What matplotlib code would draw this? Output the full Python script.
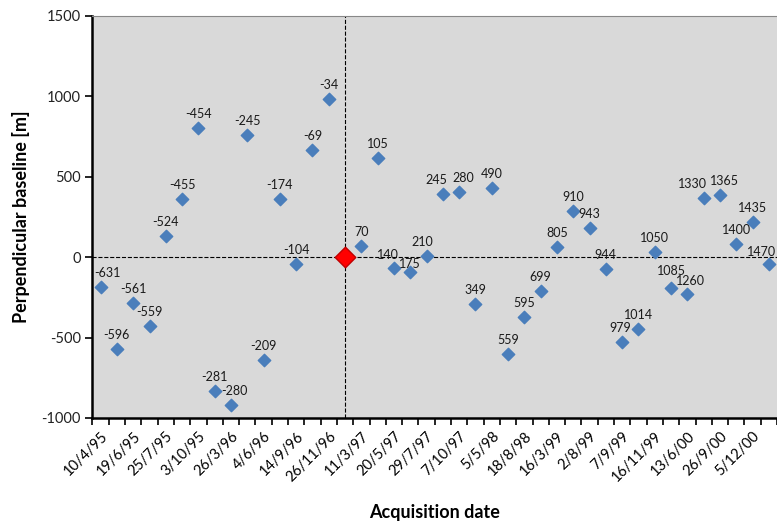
import numpy as np
import matplotlib.pyplot as plt

# temporal baseline labels [days] and perpendicular baseline [m], in acquisition order
days = [-631, -596, -561, -559, -524, -455, -454, -281, -280, -245, -209, -174,
        -104, -69, -34, 0, 70, 105, 140, 175, 210, 245, 280, 349, 490, 559, 595,
        699, 805, 910, 943, 944, 979, 1014, 1050, 1085, 1260, 1330, 1365, 1400,
        1435, 1470]
bperp = [-185, -570, -285, -426, 133, 363, 802, -832, -921, 762, -638, 363,
         -46, 669, 982, 0, 72, 615, -65, -92, 8, 395, 407, -291, 432, -603, -370,
         -208, 62, 286, 180, -77, -528, -449, 29, -194, -229, 370, 384, 80,
         218, -44]
date_labels = ['10/4/95', '19/6/95', '25/7/95', '3/10/95', '26/3/96', '4/6/96',
               '14/9/96', '26/11/96', '11/3/97', '20/5/97', '29/7/97', '7/10/97',
               '5/5/98', '18/8/98', '16/3/99', '2/8/99', '7/9/99', '16/11/99',
               '13/6/00', '26/9/00', '5/12/00']
master = days.index(0)

plt.rcParams['font.family'] = ['Lato', 'DejaVu Sans']
plt.rcParams['axes.unicode_minus'] = False

fig = plt.figure(figsize=(7.77, 5.29), dpi=100)
ax = fig.add_axes([0.119, 0.21, 0.881, 0.76])
ax.set_facecolor('#d9d9d9')

x = np.arange(len(days)) + 0.5
slaves = [i for i in range(len(days)) if i != master]
ax.scatter(x[slaves], np.array(bperp)[slaves], marker='D', s=40,
           color='#4a7ebb', zorder=3)
ax.scatter(x[master], bperp[master], marker='D', s=110, color='#ff0000',
           edgecolor='#c00000', linewidth=1, zorder=4)

ax.axhline(0, color='black', ls='--', lw=0.8, zorder=2)
ax.axvline(x[master], color='black', ls='--', lw=0.8, zorder=2)

# label nudges (pixels) where labels sit off the default spot
shift = {-631: (7, 0), -280: (3, 0), 140: (-6, -1.5), 175: (0, -6),
         210: (-4, 0), 245: (-7, 0), 280: (4, 0), 979: (-2, 0), 1085: (0, 3),
         1260: (3, -1.5), 1330: (-11, 0), 1365: (5, 0), 1470: (-7, -2)}
for xi, d, b in zip(x, days, bperp):
    if d == 0:
        continue
    dx, dy = shift.get(d, (0, 0))
    ax.annotate(str(d), (xi, b), xytext=(dx, 14 + dy), textcoords='offset pixels',
                ha='center', va='center', fontsize=9, color='#1a1a1a')

ax.set_xlim(0, len(days))
ax.set_ylim(-1000, 1500)
ax.set_yticks([-1000, -500, 0, 500, 1000, 1500])
ax.set_xticks(x[::2])
ax.set_xticklabels(date_labels, rotation=45, ha='right', rotation_mode='anchor',
                   fontsize=10.5)
ax.set_xticks(np.arange(len(days) + 1), minor=True)
ax.tick_params(axis='x', which='major', length=0, pad=8)
ax.tick_params(axis='x', which='minor', length=5, width=1.2, direction='out')
ax.tick_params(axis='y', length=5, width=1.2, labelsize=10.5, labelcolor='#222222')

for s in ['left', 'bottom']:
    ax.spines[s].set_linewidth(1.8)
ax.spines['top'].set_color('#888888')
ax.spines['right'].set_visible(False)

ax.set_xlabel('Acquisition date', fontsize=13, fontweight='bold', labelpad=14)
ax.set_ylabel('Perpendicular baseline [m]', fontsize=13, fontweight='bold',
              labelpad=8)

plt.savefig('out.png', dpi=100)
